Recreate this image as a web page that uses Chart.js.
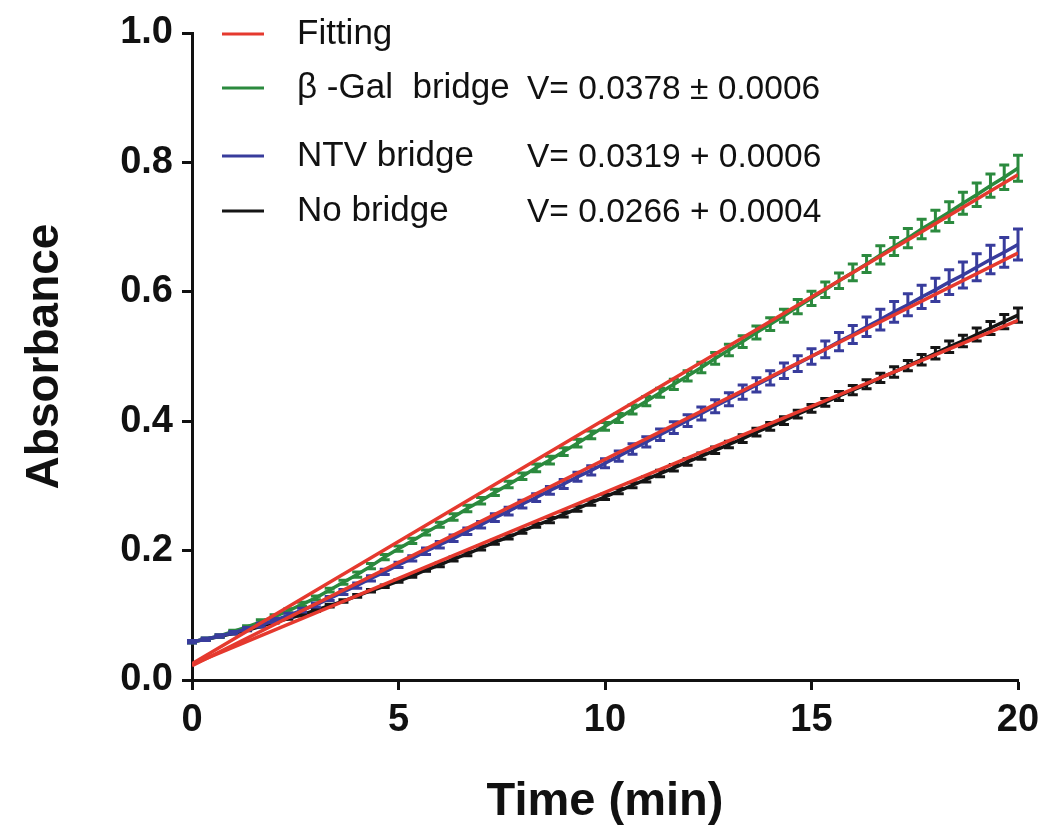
<!DOCTYPE html>
<html>
<head>
<meta charset="utf-8">
<script src="https://cdn.jsdelivr.net/npm/chart.js@4.4.1/dist/chart.umd.min.js"></script>
<style>
  html, body { margin: 0; padding: 0; background: #ffffff; }
  #wrap { width: 1044px; height: 832px; }
</style>
</head>
<body>
<div id="wrap"><canvas id="c" width="1044" height="832"></canvas></div>
<script>
// Readings every 20 s over 20 min (61 points)
const timeMin = Array.from({ length: 61 }, (_, i) => i / 3);

const galBridge = [0.059,0.063,0.068,0.075,0.082,0.090,0.098,0.107,0.117,0.127,0.139,0.151,0.163,0.176,0.190,0.203,
  0.215,0.228,0.240,0.252,0.265,0.277,0.290,0.302,0.315,0.328,0.340,0.353,0.366,0.379,0.392,
  0.405,0.418,0.431,0.444,0.457,0.470,0.483,0.497,0.510,0.523,0.537,0.550,0.563,0.577,0.590,
  0.603,0.617,0.630,0.643,0.657,0.670,0.683,0.697,0.710,0.723,0.737,0.750,0.764,0.777,0.791];
const galErr = [0.002,0.002,0.002,0.002,0.002,0.003,0.003,0.003,0.003,0.003,0.003,0.003,0.004,0.004,0.004,0.004,
  0.004,0.004,0.004,0.005,0.005,0.005,0.005,0.005,0.005,0.006,0.006,0.006,0.006,0.006,0.006,
  0.007,0.007,0.007,0.007,0.008,0.008,0.008,0.009,0.009,0.009,0.010,0.010,0.010,0.011,0.011,
  0.012,0.012,0.013,0.013,0.014,0.014,0.015,0.015,0.016,0.016,0.017,0.018,0.018,0.019,0.020];

const ntvBridge = [0.059,0.063,0.068,0.073,0.079,0.085,0.092,0.100,0.108,0.116,0.126,0.136,0.146,0.157,0.167,0.178,
  0.188,0.199,0.209,0.219,0.230,0.240,0.251,0.261,0.272,0.282,0.293,0.303,0.314,0.324,0.335,
  0.346,0.357,0.368,0.379,0.390,0.401,0.412,0.423,0.434,0.445,0.456,0.467,0.478,0.489,0.500,
  0.511,0.523,0.534,0.546,0.557,0.569,0.580,0.592,0.603,0.615,0.626,0.638,0.650,0.661,0.673];
const ntvErr = [0.002,0.002,0.002,0.002,0.002,0.003,0.003,0.003,0.003,0.003,0.003,0.004,0.004,0.004,0.004,0.004,
  0.004,0.005,0.005,0.005,0.005,0.005,0.006,0.006,0.006,0.006,0.006,0.007,0.007,0.007,0.007,
  0.008,0.008,0.008,0.009,0.009,0.009,0.010,0.010,0.010,0.011,0.011,0.011,0.012,0.012,0.012,
  0.013,0.014,0.014,0.015,0.016,0.016,0.017,0.018,0.018,0.019,0.020,0.021,0.022,0.023,0.024];

const noBridge = [0.059,0.063,0.067,0.072,0.077,0.083,0.089,0.095,0.101,0.108,0.115,0.122,0.130,0.138,0.145,0.153,
  0.161,0.170,0.178,0.187,0.195,0.204,0.213,0.221,0.230,0.239,0.247,0.256,0.265,0.274,0.283,
  0.292,0.301,0.310,0.319,0.328,0.337,0.346,0.355,0.364,0.373,0.383,0.392,0.401,0.411,0.420,
  0.429,0.439,0.448,0.457,0.467,0.476,0.486,0.495,0.505,0.515,0.524,0.534,0.544,0.554,0.564];
const noErr = [0.001,0.001,0.001,0.001,0.001,0.001,0.001,0.001,0.002,0.002,0.002,0.002,0.002,0.002,0.002,0.002,
  0.002,0.002,0.003,0.003,0.003,0.003,0.003,0.003,0.003,0.003,0.004,0.004,0.004,0.004,0.004,
  0.004,0.004,0.004,0.005,0.005,0.005,0.005,0.005,0.005,0.006,0.006,0.006,0.006,0.006,0.006,
  0.006,0.007,0.007,0.007,0.007,0.008,0.008,0.008,0.009,0.009,0.009,0.010,0.010,0.011,0.011];

// Linear fits: slope V (from the labels) and intercept
const seriesNames = ['β -Gal  bridge', 'NTV bridge', 'No bridge'];
const fitSlope = [0.0378, 0.0319, 0.0266];
const fitIntercept = [0.025, 0.022, 0.024];
const velocityText = ['V= 0.0378 ± 0.0006', 'V= 0.0319 + 0.0006', 'V= 0.0266 + 0.0004'];

const xTicks = [0, 5, 10, 15, 20];
const yTicks = [0.0, 0.2, 0.4, 0.6, 0.8, 1.0];

const RED = '#e5392e';
const GREEN = '#2b8a3e';
const BLUE = '#383c9c';
const BLACK = '#151515';
const FONT = '"Liberation Sans", Arial, Helvetica, sans-serif';

const pts = (vals) => vals.map((v, i) => ({ x: timeMin[i], y: v }));
const fitLine = (k) => [
  { x: xTicks[0], y: fitIntercept[k] + fitSlope[k] * xTicks[0] },
  { x: xTicks[xTicks.length - 1], y: fitIntercept[k] + fitSlope[k] * xTicks[xTicks.length - 1] }
];

// Vertical error bars with caps, drawn right after each measured series
const errorBars = {
  id: 'errorBars',
  afterDatasetDraw(chart, args) {
    const ds = chart.data.datasets[args.index];
    if (!ds.errors) return;
    const { ctx, scales: { x, y } } = chart;
    ctx.save();
    ctx.strokeStyle = ds.borderColor;
    ctx.lineWidth = 3;
    const cap = 5;
    ds.data.forEach((p, i) => {
      const e = ds.errors[i];
      const px = x.getPixelForValue(p.x);
      const top = y.getPixelForValue(p.y + e);
      const bot = y.getPixelForValue(p.y - e);
      ctx.beginPath();
      ctx.moveTo(px, top); ctx.lineTo(px, bot);
      ctx.moveTo(px - cap, top); ctx.lineTo(px + cap, top);
      ctx.moveTo(px - cap, bot); ctx.lineTo(px + cap, bot);
      ctx.stroke();
    });
    ctx.restore();
  }
};

// Legend block and rate annotations in the upper-left of the plot
const legendBlock = {
  id: 'legendBlock',
  afterDraw(chart) {
    const { ctx, chartArea } = chart;
    const L = chartArea.left, T = chartArea.top;
    const rows = [
      { label: 'Fitting', color: RED, dy: 1 },
      { label: seriesNames[0], color: GREEN, dy: 55, v: velocityText[0] },
      { label: seriesNames[1], color: BLUE, dy: 123, v: velocityText[1] },
      { label: seriesNames[2], color: BLACK, dy: 178, v: velocityText[2] }
    ];
    ctx.save();
    ctx.textBaseline = 'middle';
    ctx.fillStyle = '#111';
    rows.forEach(r => {
      const yy = T + r.dy;
      ctx.strokeStyle = r.color;
      ctx.lineWidth = 3;
      ctx.beginPath();
      ctx.moveTo(L + 30, yy);
      ctx.lineTo(L + 72, yy);
      ctx.stroke();
      ctx.font = '35px ' + FONT;
      ctx.textAlign = 'left';
      ctx.fillText(r.label, L + 105, yy);
      if (r.v) {
        ctx.font = '33.5px ' + FONT;
        ctx.fillText(r.v, L + 335, yy + 2);
      }
    });
    ctx.restore();
  }
};

const datasets = [];
[0, 1, 2].forEach((k) => datasets.push({
  label: 'Fitting ' + seriesNames[k],
  data: fitLine(k),
  borderColor: RED, borderWidth: 3.5, pointRadius: 0, fill: false, tension: 0
}));
datasets.push({ label: seriesNames[1], data: pts(ntvBridge), errors: ntvErr,
  borderColor: BLUE, borderWidth: 3.5, pointRadius: 0, fill: false, tension: 0 });
datasets.push({ label: seriesNames[0], data: pts(galBridge), errors: galErr,
  borderColor: GREEN, borderWidth: 3.5, pointRadius: 0, fill: false, tension: 0 });
datasets.push({ label: seriesNames[2], data: pts(noBridge), errors: noErr,
  borderColor: BLACK, borderWidth: 3.5, pointRadius: 0, fill: false, tension: 0 });

new Chart(document.getElementById('c'), {
  type: 'line',
  data: { datasets },
  options: {
    responsive: false,
    animation: false,
    devicePixelRatio: 1,
    layout: { padding: { top: 33, right: 26, left: 0, bottom: 0 } },
    plugins: { legend: { display: false }, tooltip: { enabled: false } },
    scales: {
      x: {
        type: 'linear', min: 0, max: 20,
        afterBuildTicks: (s) => { s.ticks = xTicks.map(v => ({ value: v })); },
        afterFit: (s) => { s.height = 152; s.paddingLeft = 0; s.paddingRight = 0; },
        ticks: { color: '#111', font: { family: FONT, size: 38, weight: 'bold' }, padding: 8, maxRotation: 0 },
        grid: { drawOnChartArea: false, drawTicks: true, tickLength: 10, tickWidth: 3, tickColor: '#111' },
        border: { display: true, width: 3, color: '#111' },
        title: { display: true, text: 'Time (min)', color: '#111',
          font: { family: FONT, size: 47, weight: 'bold' }, padding: { top: 0, bottom: 2 } }
      },
      y: {
        type: 'linear', min: 0, max: 1,
        afterBuildTicks: (s) => { s.ticks = yTicks.map(v => ({ value: v })); },
        afterFit: (s) => { s.width = 192; s.paddingTop = 0; s.paddingBottom = 0; },
        ticks: { color: '#111', font: { family: FONT, size: 38, weight: 'bold' }, padding: 9,
          callback: (v) => Number(v).toFixed(1) },
        grid: { drawOnChartArea: false, drawTicks: true, tickLength: 10, tickWidth: 3, tickColor: '#111' },
        border: { display: true, width: 3, color: '#111' },
        title: { display: true, text: 'Absorbance', color: '#111',
          font: { family: FONT, size: 46, weight: 'bold' }, padding: { top: 18, bottom: 0 } }
      }
    }
  },
  plugins: [errorBars, legendBlock]
});
</script>
</body>
</html>
